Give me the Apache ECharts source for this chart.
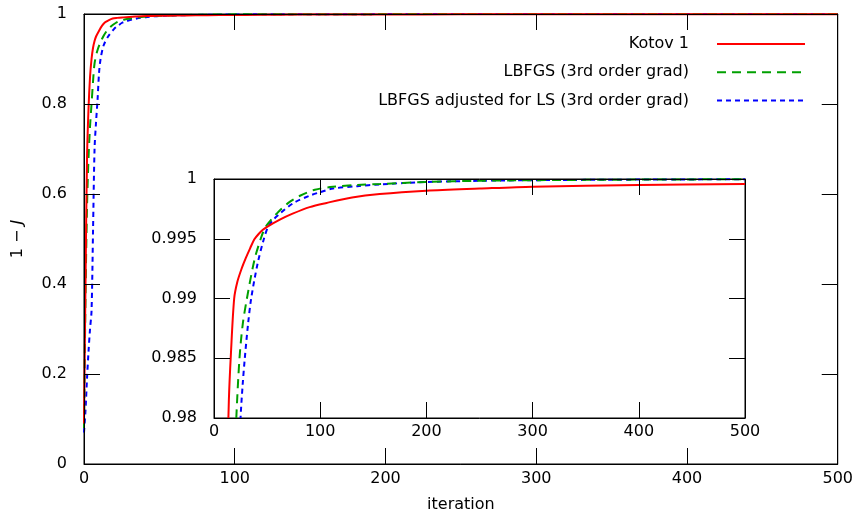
<!DOCTYPE html>
<html>
<head>
<meta charset="utf-8">
<script src="https://cdn.jsdelivr.net/npm/echarts@6/dist/echarts.min.js"></script>
<style>
html,body{margin:0;padding:0;background:#fff;}
#chart{width:856px;height:518px;}
</style>
</head>
<body>
<div id="chart"></div>
<script>
const seriesNames = ['Kotov 1', 'LBFGS (3rd order grad)', 'LBFGS adjusted for LS (3rd order grad)'];
const seriesColors = ['#ff0000', '#00a000', '#0000ff'];

const kotov = [[0,0.09],[1,0.40],[2,0.68],[3,0.79],[4,0.86],[5,0.90],[6,0.925],[7,0.94],[8,0.95],[10,0.963],[12,0.974],[14,0.9815],[16,0.9855],[19,0.99],[22,0.9914],[26,0.9925],[30,0.9934],[34,0.9942],[38,0.99495],[42,0.9954],[46,0.99575],[50,0.9960],[62,0.9966],[74,0.9971],[90,0.99765],[106,0.9980],[130,0.99845],[156,0.99874],[200,0.99902],[250,0.9992],[300,0.99936],[400,0.9995],[500,0.99958]];

const lbfgs = [[0,0.08],[1,0.37],[2,0.57],[3,0.68],[4,0.75],[5,0.80],[6,0.85],[7,0.89],[9,0.92],[12,0.945],[15,0.962],[18,0.973],[21,0.98],[24,0.985],[27,0.9878],[31,0.99],[38,0.9932],[44,0.995],[48,0.9959],[53,0.9965],[59,0.9971],[70,0.9980],[81,0.9986],[95,0.9991],[112,0.99935],[135,0.9995],[156,0.99958],[200,0.99975],[250,0.99985],[300,0.9999],[400,0.99995],[500,0.99998]];

const lbfgsLS = [[0,0.07],[1,0.12],[2,0.19],[3,0.25],[4,0.30],[5,0.34],[6,0.52],[7,0.70],[8,0.76],[9,0.81],[10,0.87],[11,0.90],[13,0.93],[16,0.95],[20,0.967],[23,0.975],[25,0.98],[27,0.9828],[29,0.985],[32,0.9878],[35,0.99],[41,0.9929],[47,0.995],[51,0.9960],[56,0.9966],[62,0.9971],[75,0.9980],[90,0.9986],[100,0.9989],[112,0.9992],[135,0.9994],[156,0.99955],[200,0.99975],[250,0.99985],[300,0.9999],[400,0.99995],[500,0.99998]];

const xTicks = [0, 100, 200, 300, 400, 500];
const mainYTicks = [0, 0.2, 0.4, 0.6, 0.8, 1];
const insetYTicks = [0.98, 0.985, 0.99, 0.995, 1];

const FONT = 'DejaVu Sans';
const dataSets = [kotov, lbfgs, lbfgsLS];
const dashes = ['solid', [9, 6], [5, 4]];

function axisBase(extra) {
  return Object.assign({
    z: 20,
    axisLine: {show: true, onZero: false, lineStyle: {color: '#000', width: 1}},
    axisTick: {show: true, inside: true, length: 16, lineStyle: {color: '#000', width: 1}},
    splitLine: {show: false},
    axisLabel: {show: true, color: '#000', fontFamily: FONT, fontSize: 16},
  }, extra);
}

const xStep = xTicks[1] - xTicks[0];
const mainStep = mainYTicks[1] - mainYTicks[0];
const insetStep = insetYTicks[1] - insetYTicks[0];

const xAxes = [
  axisBase({type: 'value', gridIndex: 0, position: 'bottom', min: xTicks[0], max: xTicks[xTicks.length-1], interval: xStep,
    name: 'iteration', nameLocation: 'middle', nameGap: 33, nameTextStyle: {color: '#000', fontFamily: FONT, fontSize: 16},
    axisLabel: {color: '#000', fontFamily: FONT, fontSize: 16, margin: 7}}),
  axisBase({type: 'value', gridIndex: 0, position: 'top', min: xTicks[0], max: xTicks[xTicks.length-1], interval: xStep, axisLabel: {show: false}}),
  axisBase({type: 'value', gridIndex: 1, position: 'bottom', min: xTicks[0], max: xTicks[xTicks.length-1], interval: xStep,
    axisLabel: {color: '#000', fontFamily: FONT, fontSize: 16, margin: 6}}),
  axisBase({type: 'value', gridIndex: 1, position: 'top', min: xTicks[0], max: xTicks[xTicks.length-1], interval: xStep, axisLabel: {show: false}})
];

const yAxes = [
  axisBase({type: 'value', gridIndex: 0, position: 'left', min: mainYTicks[0], max: mainYTicks[mainYTicks.length-1], interval: mainStep,
    name: '1 − {i|J}', nameLocation: 'middle', nameGap: 58, nameRotate: 90,
    nameTextStyle: {color: '#000', fontFamily: FONT, fontSize: 16, rich: {i: {fontStyle: 'italic', fontFamily: FONT, fontSize: 16, color: '#000'}}},
    axisLabel: {color: '#000', fontFamily: FONT, fontSize: 16, margin: 17}}),
  axisBase({type: 'value', gridIndex: 0, position: 'right', min: mainYTicks[0], max: mainYTicks[mainYTicks.length-1], interval: mainStep, axisLabel: {show: false}}),
  axisBase({type: 'value', gridIndex: 1, position: 'left', min: insetYTicks[0], max: insetYTicks[insetYTicks.length-1], interval: insetStep,
    axisLabel: {color: '#000', fontFamily: FONT, fontSize: 16, margin: 17, formatter: v => String(+v.toFixed(3))}}),
  axisBase({type: 'value', gridIndex: 1, position: 'right', min: insetYTicks[0], max: insetYTicks[insetYTicks.length-1], interval: insetStep, axisLabel: {show: false}})
];

const series = [];
[0, 1].forEach(g => {
  dataSets.forEach((d, i) => {
    series.push({
      type: 'line',
      name: seriesNames[i],
      xAxisIndex: g * 2,
      yAxisIndex: g * 2,
      data: d,
      symbol: 'none',
      showSymbol: false,
      smooth: 0.3,
      clip: true,
      animation: false,
      z: 13 - i,
      lineStyle: {color: seriesColors[i], width: 2, type: dashes[i]},
      itemStyle: {color: seriesColors[i]}
    });
  });
});

const chart = echarts.init(document.getElementById('chart'), null, {renderer: 'canvas'});
chart.setOption({
  animation: false,
  backgroundColor: '#fff',
  grid: [
    {left: 84, top: 14, right: 16, bottom: 51.5, show: true, borderColor: '#000', borderWidth: 1, backgroundColor: 'transparent', z: 0},
    {left: 214, top: 179, width: 531, height: 239, show: true, borderColor: '#000', borderWidth: 1, backgroundColor: '#fff', z: 1}
  ],
  legend: {
    data: seriesNames,
    orient: 'vertical',
    right: 50,
    top: 36,
    align: 'right',
    padding: 0,
    itemWidth: 88,
    itemHeight: 16,
    itemGap: 12.3,
    itemStyle: {color: 'rgba(0,0,0,0)', borderWidth: 0, opacity: 0},
    textStyle: {color: '#000', fontFamily: FONT, fontSize: 16, padding: [0, 23, 0, 0]}
  },
  xAxis: xAxes,
  yAxis: yAxes,
  series: series
});
</script>
</body>
</html>
